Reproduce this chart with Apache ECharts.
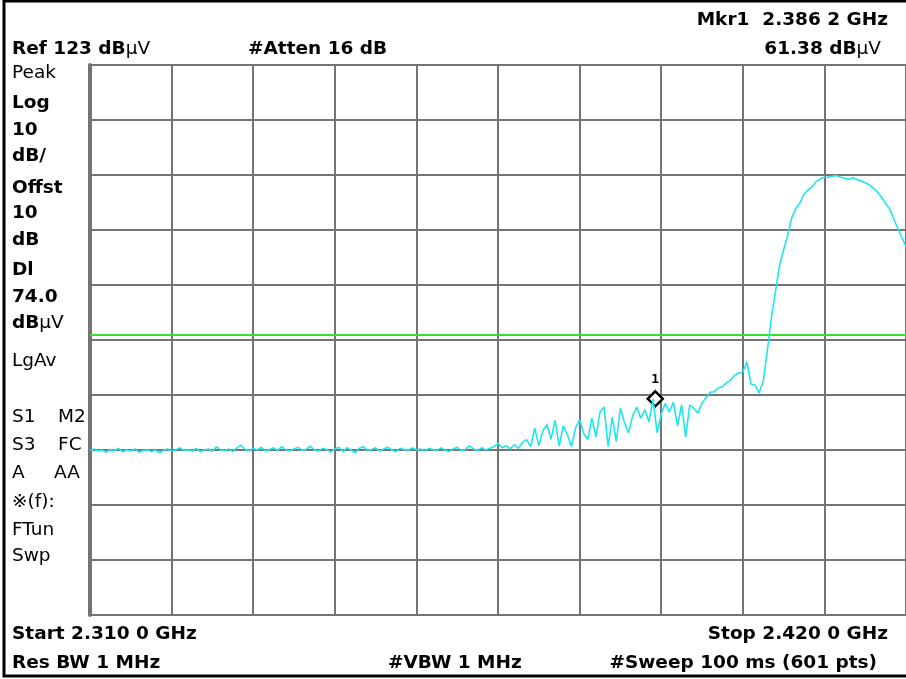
<!DOCTYPE html>
<html>
<head>
<meta charset="utf-8">
<script src="https://cdn.jsdelivr.net/npm/echarts@6/dist/echarts.min.js"></script>
<style>
html,body{margin:0;padding:0;background:#fff;}
#c{width:906px;height:679px;}
</style>
</head>
<body>
<div id="c"></div>
<script>
// ---- data ----
const startMHz = 2310;
const stopMHz = 2420;
const refLevel = 123;      // dBµV, top of screen
const dbPerDiv = 10;
const displayLine = 74.0;  // dBµV
const markerFreqMHz = 2386.2;
const markerLevel = 62.3;

// trace levels (dBµV), uniformly spaced sweep points from start to stop
const levels = [
  52.9, 53.2, 52.8, 53.0, 52.6, 53.1, 52.9, 53.3, 52.7, 53.0, 52.8, 53.2, 52.6, 52.9, 53.1, 52.7, 53.0, 52.5, 52.9, 53.2,
  52.8, 53.0, 53.4, 52.9, 53.1, 52.8, 53.3, 52.7, 53.0, 53.2, 52.8, 53.6, 53.0, 52.9, 53.2, 52.7, 53.4, 53.9, 53.1, 52.9,
  53.3, 53.0, 53.5, 52.8, 53.1, 53.4, 52.9, 53.6, 53.0, 52.8, 53.2, 53.5, 52.9, 53.1, 53.7, 53.0, 52.8, 53.3, 53.1, 52.6,
  53.2, 53.5, 52.7, 53.4, 53.0, 52.5, 53.3, 53.6, 52.9, 53.1, 53.4, 52.8, 53.2, 53.5, 53.0, 52.7, 53.3, 53.1, 52.9, 53.4,
  53.0, 53.2, 52.8, 53.3, 53.1, 52.9, 53.4, 53.0, 52.7, 53.2, 53.5, 52.9, 53.1, 53.8, 53.2, 52.9, 53.4,
  53.0, 53.3, 53.6, 54.2, 53.4, 53.8, 53.2, 54.0, 53.3, 54.4, 54.9, 53.6, 57.0, 53.8, 56.5, 57.6, 55.0, 58.4, 53.7, 57.4,
  55.8, 53.6, 57.0, 58.5, 56.0, 54.9, 58.8, 55.4, 59.9, 60.8, 53.6, 59.0, 54.5, 60.6, 58.0, 56.1, 59.2, 60.8, 58.8, 60.3,
  58.1, 62.3, 56.1, 59.5, 61.5, 59.9, 61.7, 57.4, 61.2, 55.4, 61.2, 60.6, 59.7, 61.5, 62.5, 63.5, 63.6, 64.3, 64.5, 65.2,
  65.7, 66.6, 67.0, 67.2, 69.0, 65.0, 64.8, 63.4, 65.5, 71.0, 77.0, 81.8, 86.5, 89.4, 92.0, 95.2, 96.9, 97.9, 99.5, 100.3,
  100.9, 101.8, 102.3, 102.6, 102.6, 102.8, 102.9, 102.6, 102.4, 102.2, 102.5, 102.2, 101.9, 101.6, 101.2, 100.6, 99.9, 99.0, 97.8, 96.8,
  95.0, 93.3, 91.6, 90.0
];

// ---- build ----
const stepMHz = (stopMHz - startMHz) / (levels.length - 1);
const traceData = levels.map((v, i) => [startMHz + i * stepMHz, v]);

const FONT = 'DejaVu Sans';
const GRIDC = '#747474';

function txt(x, y, text, opts) {
  opts = opts || {};
  return {
    type: 'text', x: x, y: y, silent: true,
    style: Object.assign({
      text: text, fill: '#000', fontFamily: FONT,
      fontSize: opts.size || 18.5, fontWeight: opts.bold ? 'bold' : 'normal',
      align: opts.align || 'left', verticalAlign: 'middle'
    }, opts.rich ? { rich: opts.rich } : {})
  };
}
const richDB = {
  b: { fontFamily: FONT, fontSize: 18.5, fontWeight: 'bold', fill: '#000' },
  r: { fontFamily: FONT, fontSize: 18.5, fontWeight: 'normal', fill: '#000' }
};

const leftLabels = [
  ['Peak', 73, false], ['Log', 103, true], ['10', 130, true], ['dB/', 156, true],
  ['Offst', 188, true], ['10', 213, true], ['dB', 240, true], ['Dl', 270, true],
  ['74.0', 297, true], ['LgAv', 361, false], ['S1', 417, false], ['S3', 445, false],
  ['A', 473, false], ['※(f):', 502, false], ['FTun', 530, false], ['Swp', 556, false]
];

const graphics = [
  { type: 'rect', silent: true, z: 0, shape: { x: 4, y: 1, width: 920, height: 675 },
    style: { fill: 'none', stroke: '#000', lineWidth: 3 } },
  txt(888, 20, 'Mkr1  2.386 2 GHz', { bold: true, align: 'right' }),
  txt(12, 49, '{b|Ref 123 dB}{r|μV}', { rich: richDB }),
  txt(248, 49, '#Atten 16 dB', { bold: true }),
  txt(881, 49, '{b|61.38 dB}{r|μV}', { rich: richDB, align: 'right' }),
  txt(12, 323, '{b|dB}{r|μV}', { rich: richDB }),
  txt(58, 417, 'M2', {}),
  txt(58, 445, 'FC', {}),
  txt(54, 473, 'AA', {}),
  txt(12, 634, 'Start 2.310 0 GHz', { bold: true }),
  txt(888, 634, 'Stop 2.420 0 GHz', { bold: true, align: 'right' }),
  txt(12, 663, 'Res BW 1 MHz', { bold: true }),
  txt(388, 663, '#VBW 1 MHz', { bold: true }),
  txt(877, 663, '#Sweep 100 ms (601 pts)', { bold: true, align: 'right' })
];
leftLabels.forEach(l => graphics.push(txt(12, l[1], l[0], { bold: l[2] })));

const chart = echarts.init(document.getElementById('c'), null, { renderer: 'canvas' });
chart.setOption({
  animation: false,
  backgroundColor: '#fff',
  grid: { left: 90, top: 65, width: 822, height: 550, containLabel: false },
  xAxis: {
    type: 'value', min: startMHz, max: stopMHz, interval: 11,
    axisLabel: { show: false }, axisTick: { show: false }, axisLine: { show: false },
    splitLine: { show: true, lineStyle: { color: GRIDC, width: 2 } }
  },
  yAxis: [
    { type: 'value', min: refLevel - 10 * dbPerDiv, max: refLevel, show: false,
      splitLine: { show: false } },
    { type: 'value', min: 0, max: 100, interval: 10, position: 'left',
      axisLabel: { show: false }, axisTick: { show: false },
      axisLine: { show: true, lineStyle: { color: GRIDC, width: 4 } },
      splitLine: { show: true, lineStyle: { color: GRIDC, width: 2 } } }
  ],
  graphic: graphics,
  series: [{
    type: 'line', yAxisIndex: 0, data: traceData, showSymbol: false, silent: true,
    clip: false,
    lineStyle: { color: '#1fe6ee', width: 1.6 },
    z: 5,
    markLine: {
      silent: true, symbol: 'none', label: { show: false },
      lineStyle: { color: '#35e035', width: 2, type: 'solid' },
      data: [{ yAxis: displayLine }],
      z: 4
    },
    markPoint: {
      silent: true,
      symbol: 'diamond', symbolSize: [15, 15],
      itemStyle: { color: '#fff', borderColor: '#000', borderWidth: 2.5 },
      label: { show: true, position: 'top', distance: 4, formatter: '1',
        fontFamily: 'DejaVu Sans Mono', fontWeight: 'bold', fontSize: 13, color: '#000' },
      data: [{ coord: [markerFreqMHz, markerLevel] }]
    }
  }]
});
</script>
</body>
</html>
